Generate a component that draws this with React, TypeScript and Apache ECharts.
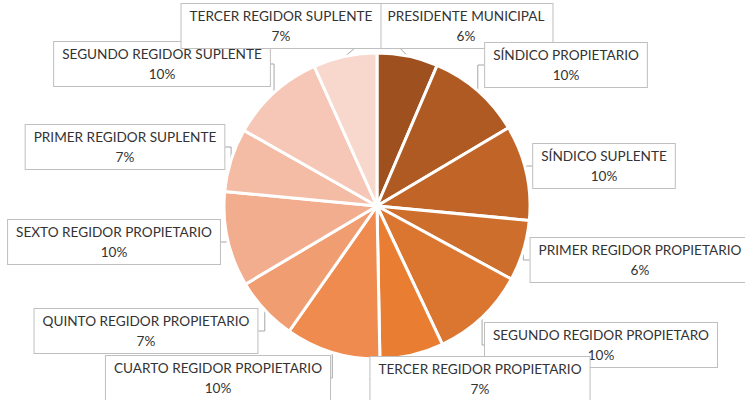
import React, { useEffect, useRef } from "react";
import * as echarts from "echarts";

const categories = [
  "PRESIDENTE MUNICIPAL",
  "SÍNDICO PROPIETARIO",
  "SÍNDICO SUPLENTE",
  "PRIMER REGIDOR PROPIETARIO",
  "SEGUNDO REGIDOR PROPIETARO",
  "TERCER REGIDOR PROPIETARIO",
  "CUARTO REGIDOR PROPIETARIO",
  "QUINTO REGIDOR PROPIETARIO",
  "SEXTO REGIDOR PROPIETARIO",
  "PRIMER REGIDOR SUPLENTE",
  "SEGUNDO REGIDOR SUPLENTE",
  "TERCER REGIDOR SUPLENTE",
];

const values = [6.4, 10, 10, 6.4, 10, 6.7, 10, 6.7, 10, 6.7, 10, 6.7];

const sliceColors = [
  "#9E511E",
  "#AE5A22",
  "#C06427",
  "#CD6E2D",
  "#DB7631",
  "#E97E33",
  "#EF8B4F",
  "#F09D72",
  "#F2AD8F",
  "#F4BBA5",
  "#F6C7B7",
  "#F8D7CC",
];

// label box centres (layout only)
const labelCenters: [number, number][] = [
  [466, 26],
  [566, 65],
  [604, 166],
  [640, 260],
  [601, 345],
  [480, 379],
  [218, 378],
  [146, 331],
  [114, 242],
  [125, 147],
  [162, 64],
  [281, 26],
];

export default function App() {
  const ref = useRef<HTMLDivElement>(null);
  useEffect(() => {
    document.body.style.margin = "0";
    const chart = echarts.init(ref.current!, undefined, { renderer: "svg" });
    chart.setOption({
      animation: false,
      backgroundColor: "#ffffff",
      series: [
        {
          type: "pie",
          center: [377, 206],
          radius: 153,
          startAngle: 90,
          clockwise: true,
          avoidLabelOverlap: false,
          percentPrecision: 0,
          data: categories.map((name, i) => ({
            name,
            value: values[i],
            itemStyle: { color: sliceColors[i] },
          })),
          itemStyle: { borderColor: "#ffffff", borderWidth: 3 },
          label: {
            show: true,
            position: "outside",
            formatter: "{b}\n{d}%",
            fontFamily: "Lato",
            fontSize: 13.6,
            lineHeight: 20,
            color: "#333333",
            align: "center",
            backgroundColor: "#ffffff",
            borderColor: "#BFBFBF",
            borderWidth: 1,
            padding: [2, 8],
          },
          labelLine: {
            show: true,
            length: 10,
            length2: 10,
            lineStyle: { color: "#A6A6A6", width: 1 },
          },
          labelLayout: (params: any) => {
            const c = labelCenters[params.dataIndex];
            return { x: c[0], y: c[1], align: "center", verticalAlign: "middle" };
          },
        },
      ],
    });
    return () => chart.dispose();
  }, []);
  return <div ref={ref} style={{ width: 745, height: 400 }} />;
}
